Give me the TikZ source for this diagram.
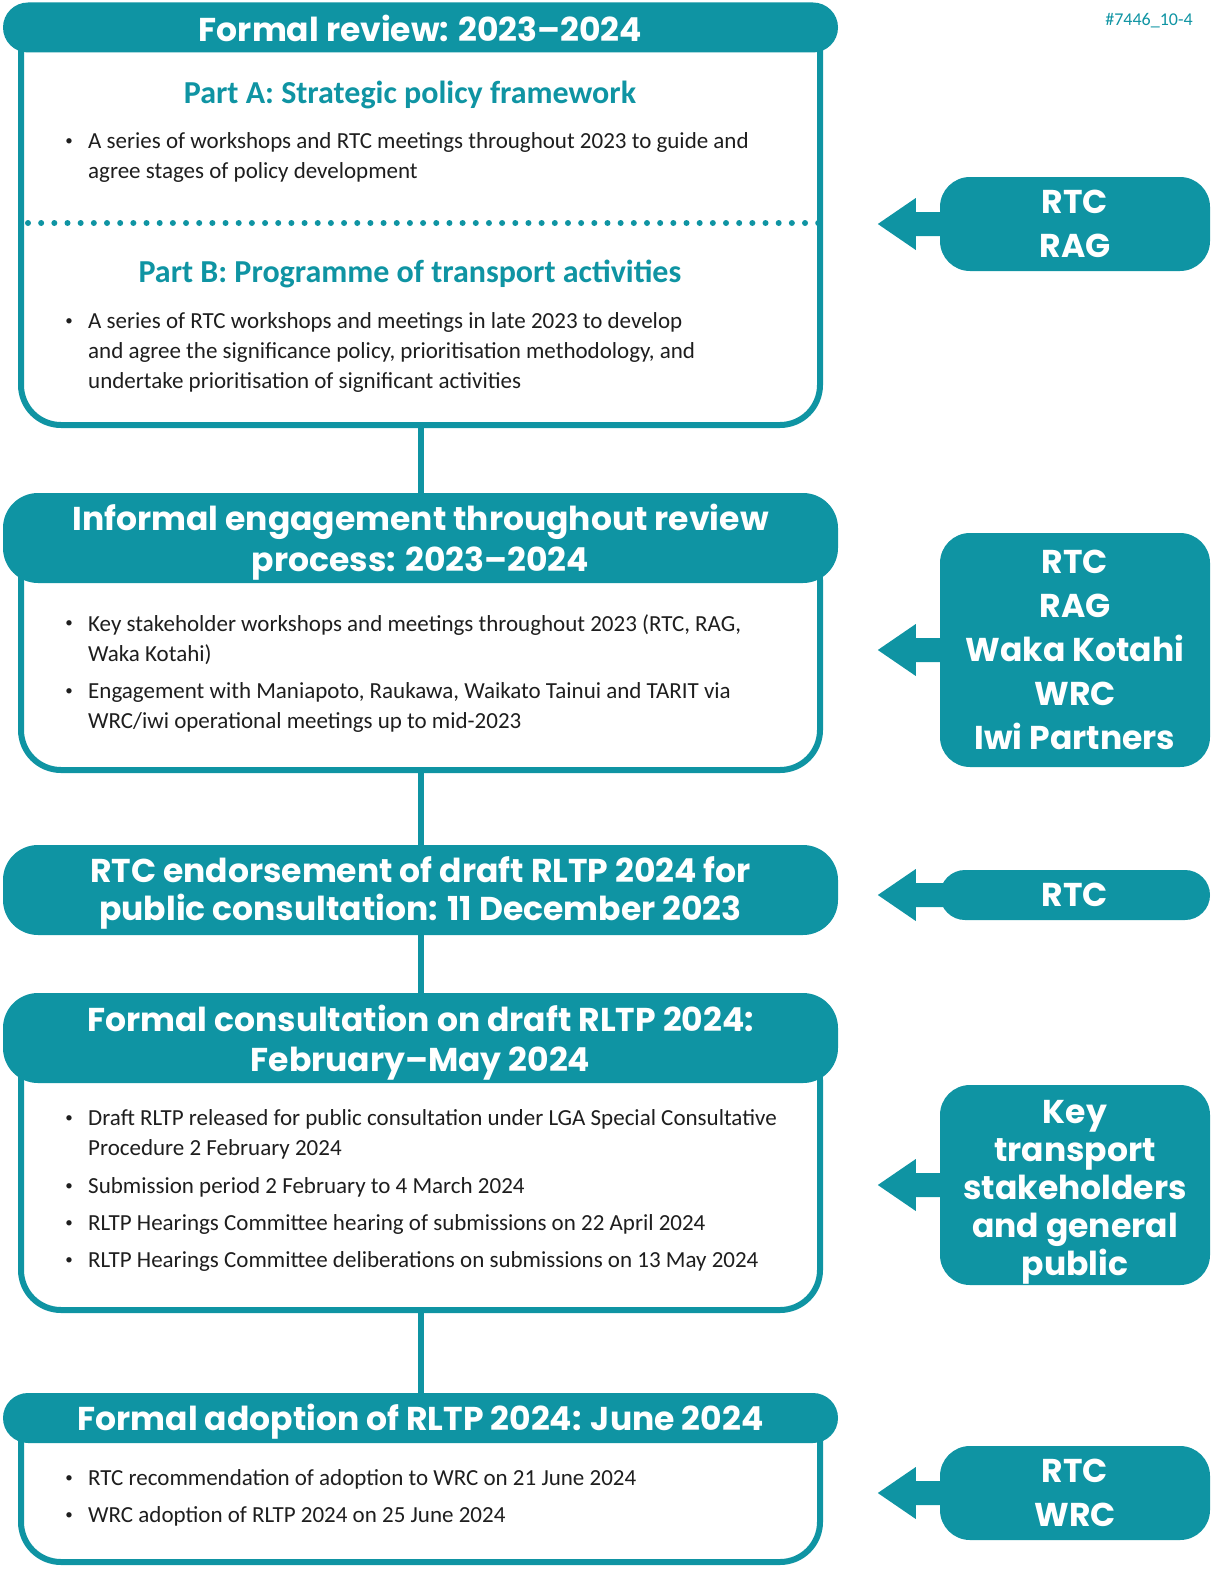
\documentclass[tikz,border=0pt]{standalone}
\usepackage{fontspec}
\setmainfont{Carlito}
\newfontfamily\headf{Poppins}
\definecolor{tealc}{RGB}{15,148,163}
\definecolor{textc}{RGB}{30,30,30}
\begin{document}
\begin{tikzpicture}[x=1pt,y=-1pt,
  hdr/.style={fill=tealc,minimum width=835,inner sep=0},
  hdrtext/.style={text=white,inner sep=0,align=center,
     font=\headf\bfseries\fontsize{33}{41}\selectfont},
  bodybox/.style={draw=tealc,fill=white,line width=6,rounded corners=40,minimum width=799,inner sep=0},
  side/.style={fill=tealc,text=white,minimum width=270,inner sep=0,align=center,rounded corners=30,
     font=\headf\bfseries\fontsize{33}{44}\selectfont},
  sidetext/.style={text=white,inner sep=0,align=center,font=\headf\bfseries\fontsize{33}{38}\selectfont},
  sub/.style={text=tealc,font=\bfseries\fontsize{32}{36}\selectfont,inner sep=0},
  item/.style={anchor=north west,inner sep=0,align=left,text=textc,font=\fontsize{23}{30}\selectfont},
  bul/.style={inner sep=0,text=textc,font=\fontsize{15}{20}\selectfont},
  conn/.style={draw=tealc,line width=6},
  arr/.style={fill=tealc}
]
\useasboundingbox (0,0) rectangle (1212,1571);
% label
\node[text=tealc,font=\fontsize{18}{20}\selectfont,inner sep=0] (lab) at (1149,21) {\#7446\_10-4};

% ---------- box 1
\node[bodybox,minimum height=415] (b1) at (420.5,217.5) {};
\node[hdr,minimum height=50,rounded corners=25] (h1) at (420.5,27.5) {};
\node[hdrtext] (h1t) at (420.5,28) {Formal review: 2023–2024};
\node[sub] (pa) at (410,95) {Part A: Strategic policy framework};
\node[bul] (ba1) at (69,142) {•};
\node[item] (ia1) at (88,132) {A series of workshops and RTC meetings throughout 2023 to guide and\\agree stages of policy development};
\coordinate (dA) at (28,223);
\coordinate (dB) at (820,223);
\draw[tealc,line width=6,line cap=round,dash pattern=on 0pt off 13.17pt] (dA) -- (dB);
\node[sub] (pb) at (410,274) {Part B: Programme of transport activities};
\node[bul] (bb1) at (69,322) {•};
\node[item] (ib1) at (88,312) {A series of RTC workshops and meetings in late 2023 to develop\\and agree the significance policy, prioritisation methodology, and\\undertake prioritisation of significant activities};

% ---------- box 2
\node[bodybox,minimum height=230] (b2) at (420.5,655) {};
\node[hdr,minimum height=90,rounded corners=35] (h2) at (420.5,538) {};
\node[hdrtext] (h2t) at (420.5,542) {Informal engagement throughout review\\process: 2023–2024};
\node[bul] (b21) at (69,624) {•};
\node[item] (i21) at (88,614) {Key stakeholder workshops and meetings throughout 2023 (RTC, RAG,\\Waka Kotahi)};
\node[bul] (b22) at (69,692) {•};
\node[item] (i22) at (88,682) {Engagement with Maniapoto, Raukawa, Waikato Tainui and TARIT via\\WRC/iwi operational meetings up to mid-2023};

% ---------- box 3
\node[hdr,minimum height=90,rounded corners=35] (h3) at (420.5,890) {};
\node[hdrtext,font=\headf\bfseries\fontsize{33}{38}\selectfont] (h3t) at (420.5,893) {RTC endorsement of draft RLTP 2024 for\\public consultation: 11 December 2023};

% ---------- box 4
\node[bodybox,minimum height=270] (b4) at (420.5,1175) {};
\node[hdr,minimum height=90,rounded corners=35] (h4) at (420.5,1038) {};
\node[hdrtext,font=\headf\bfseries\fontsize{33}{40}\selectfont] (h4t) at (420.5,1043) {Formal consultation on draft RLTP 2024:\\February–May 2024};
\node[bul] (b41) at (69,1119) {•};
\node[item] (i41) at (88,1109) {Draft RLTP released for public consultation under LGA Special Consultative\\Procedure 2 February 2024};
\node[bul] (b42) at (69,1187) {•};
\node[item] (i42) at (88,1177) {Submission period 2 February to 4 March 2024};
\node[bul] (b43) at (69,1224) {•};
\node[item] (i43) at (88,1214) {RLTP Hearings Committee hearing of submissions on 22 April 2024};
\node[bul] (b44) at (69,1261) {•};
\node[item] (i44) at (88,1251) {RLTP Hearings Committee deliberations on submissions on 13 May 2024};

% ---------- box 5
\node[bodybox,minimum height=162] (b5) at (420.5,1481) {};
\node[hdr,minimum height=50,rounded corners=25] (h5) at (420.5,1418) {};
\node[hdrtext] (h5t) at (420.5,1422) {Formal adoption of RLTP 2024: June 2024};
\node[bul] (b51) at (69,1479) {•};
\node[item] (i51) at (88,1469) {RTC recommendation of adoption to WRC on 21 June 2024};
\node[bul] (b52) at (69,1516) {•};
\node[item] (i52) at (88,1506) {WRC adoption of RLTP 2024 on 25 June 2024};

% ---------- connectors
\draw[conn] (b1.south) -- (b1.south |- h2.north);
\draw[conn] (b2.south) -- (b2.south |- h3.north);
\draw[conn] (h3.south) -- (h3.south |- h4.north);
\draw[conn] (b4.south) -- (b4.south |- h5.north);

% ---------- side boxes
\node[side,minimum height=94] (r1) at (1075,224) {RTC\\RAG};
\node[side,minimum height=234] (r2) at (1075,650) {RTC\\RAG\\Waka Kotahi\\WRC\\Iwi Partners};
\node[side,minimum height=50,rounded corners=25] (r3) at (1075,895) {RTC};
\node[side,minimum height=200] (r4) at (1075,1185) {};
\node[sidetext] (r4t) at (1075,1192) {Key\\transport\\stakeholders\\and general\\public};
\node[side,minimum height=94] (r5) at (1075,1493) {RTC\\WRC};

% ---------- arrows
\foreach \r in {r1,r2,r3,r4,r5}{
  \fill[arr] ([xshift=-62pt]\r.west) -- ++(38,-26) -- ++(0,14) -- ++(34,0) -- ++(0,24) -- ++(-34,0) -- ++(0,14) -- cycle;
}
\end{tikzpicture}
\end{document}
